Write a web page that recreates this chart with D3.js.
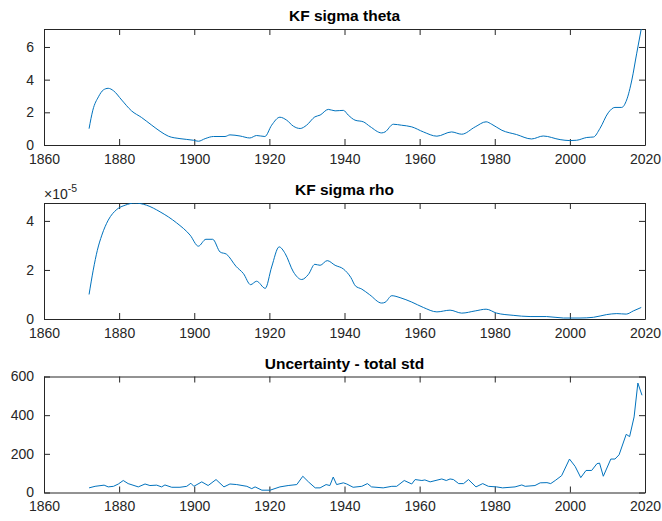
<!DOCTYPE html>
<html>
<head>
<meta charset="utf-8">
<script src="https://cdn.jsdelivr.net/npm/d3@7"></script>
<style>
  body { margin: 0; background: #fff; }
  svg { display: block; }
</style>
</head>
<body>
<svg id="chart" width="662" height="521"></svg>
<script>
// x axis ticks shared by all three panels
const xTicks = [1860, 1880, 1900, 1920, 1940, 1960, 1980, 2000, 2020];

// panel 1: KF sigma theta
const thetaYears = [1872, 1873, 1874.5, 1875.8, 1877.1, 1878.5, 1880.7, 1883.3, 1886, 1888.7, 1890.9, 1893.1, 1896.2, 1899.8,
  1901.1, 1902.9, 1905.1, 1908.2, 1909.5, 1912.2, 1914.8, 1916.6, 1918.8, 1920.6, 1922.8, 1924.6, 1926.4, 1928.2, 1929.9,
  1932.1, 1933.5, 1935.7, 1937.5, 1939.7, 1941, 1942.8, 1945, 1946.8, 1949.9, 1950.8, 1953, 1955.2, 1957.9, 1961,
  1964.6, 1968.5, 1971.2, 1974.8, 1977.7, 1979.2, 1981.9, 1985.8, 1989.8, 1992.9, 1997.4, 2000, 2001.8, 2004.5,
  2006.3, 2008, 2010.2, 2012, 2013.8, 2015.1, 2016.5, 2017.8, 2019];
const thetaValues = [1.0, 2.13, 2.95, 3.37, 3.47, 3.32, 2.75, 2.09, 1.68, 1.21, 0.84, 0.54, 0.39, 0.29,
  0.23, 0.39, 0.52, 0.52, 0.62, 0.55, 0.43, 0.58, 0.52, 1.21, 1.70, 1.52, 1.15, 1.01, 1.21,
  1.72, 1.83, 2.18, 2.09, 2.12, 1.83, 1.52, 1.42, 1.13, 0.74, 0.80, 1.27, 1.21, 1.11, 0.80,
  0.54, 0.80, 0.66, 1.11, 1.42, 1.27, 0.90, 0.64, 0.37, 0.55, 0.33, 0.27, 0.29, 0.46,
  0.49, 1.01, 1.97, 2.30, 2.30, 2.75, 3.98, 5.62, 7.10];
const thetaTicks = [0, 2, 4, 6];

// panel 2: KF sigma rho (x 1e-5)
const rhoYears = [1872, 1873.1, 1874.2, 1875.4, 1877.1, 1879.4, 1881.6, 1884.2, 1887.3, 1890.9, 1895.3, 1898.9, 1901.1,
  1903.1, 1904.9, 1906.9, 1908.6, 1911.1, 1913.1, 1915, 1916.6, 1918.9, 1920.6, 1922.6, 1924.2, 1926.4, 1928.6,
  1930.4, 1932.1, 1933.5, 1935.4, 1937.5, 1939.7, 1941.7, 1942.9, 1944.6, 1946.7, 1949.9, 1950.8, 1952.6, 1954.8,
  1957.9, 1961, 1964.6, 1968.1, 1971.2, 1974.8, 1977.7, 1980.5, 1984.9, 1989.4, 1993.8, 1998.3, 2002.7, 2006.3,
  2009.8, 2012.5, 2015, 2016.9, 2019];
const rhoValues = [1.00, 1.99, 2.80, 3.42, 4.03, 4.47, 4.64, 4.73, 4.64, 4.37, 3.92, 3.42, 2.97,
  3.25, 3.25, 2.73, 2.64, 2.15, 1.85, 1.40, 1.54, 1.25, 2.12, 2.94, 2.67, 1.92, 1.61,
  1.82, 2.23, 2.19, 2.38, 2.19, 2.04, 1.69, 1.35, 1.22, 0.99, 0.65, 0.68, 0.95, 0.87,
  0.69, 0.47, 0.29, 0.36, 0.24, 0.33, 0.40, 0.24, 0.15, 0.10, 0.10, 0.04, 0.04, 0.07,
  0.18, 0.22, 0.20, 0.33, 0.47];
const rhoTicks = [0, 2, 4];

// panel 3: Uncertainty - total std
const stdYears = [1872, 1873.6, 1876, 1877.1, 1878.5, 1879.8, 1881.1, 1882.4, 1885.1, 1886.9, 1888.2, 1890, 1891.3,
  1892.2, 1894, 1896.2, 1898, 1899.1, 1899.9, 1902, 1903.7, 1905.8, 1907.9, 1909.5, 1911.3, 1914, 1915.3, 1916.2,
  1918, 1920.2, 1922.8, 1925, 1927.3, 1928.9, 1930.4, 1932.2, 1933.5, 1935.1, 1936.1, 1937, 1937.9, 1939.7, 1940.6,
  1942.3, 1944.6, 1946.1, 1947.2, 1950.3, 1952.6, 1953.9, 1955.9, 1957.9, 1958.8, 1960.6, 1961.4, 1962.8, 1965.9,
  1967.1, 1968.1, 1969, 1970.4, 1971.7, 1973, 1975, 1976.8, 1978.3, 1980.5, 1982.1, 1985.4, 1987.2, 1988.1, 1990.7,
  1992.1, 1993.9, 1994.9, 1996.1, 1997.8, 1999.9, 2001.4, 2002.9, 2004.3, 2005.8, 2007.2, 2007.9, 2008.9, 2010.9,
  2012, 2013.1, 2015, 2015.9, 2017.1, 2018.1, 2019.2];
const stdValues = [24, 32, 38, 29, 32, 44, 62, 46, 29, 44, 36, 38, 29,
  39, 27, 27, 32, 48, 32, 55, 36, 67, 29, 44, 41, 32, 20, 29,
  12, 12, 29, 36, 41, 84, 55, 24, 24, 41, 36, 80, 41, 50, 44,
  27, 32, 46, 29, 24, 32, 32, 62, 44, 67, 62, 65, 55, 70,
  62, 70, 67, 46, 46, 67, 29, 46, 32, 29, 24, 29, 39, 32, 36,
  50, 51, 46, 62, 87, 173, 135, 77, 114, 114, 149, 152, 84, 173,
  173, 195, 301, 289, 391, 566, 503];
const stdTicks = [0, 200, 400, 600];

let svg = d3.select("#chart");

// common layout
let margin = { left: 44, right: 17 };
let plotWidth = 662 - margin.left - margin.right;
let plotHeight = 116;
let axisColor = "#262626";
let lineColor = "#0072bd";
let fontFamily = "'Liberation Sans', Arial, Helvetica, sans-serif";

let xScale = d3.scaleLinear()
  .domain([1860, 2020])
  .range([0, plotWidth]);

function drawPanel(top, title, years, values, yTicks, yMax, curve) {
  let yScale = d3.scaleLinear()
    .domain([0, yMax])
    .range([plotHeight, 0]);

  let plot = svg.append("g")
    .attr("transform", "translate(" + margin.left + "," + top + ")");

  // inward ticks on all four sides, like matlab box on
  let xBottom = d3.axisBottom(xScale).tickValues(xTicks).tickSizeInner(-6).tickSizeOuter(0).tickPadding(9).tickFormat(d3.format("d"));
  let xTop = d3.axisTop(xScale).tickValues(xTicks).tickSizeInner(-6).tickSizeOuter(0).tickFormat("");
  let yLeft = d3.axisLeft(yScale).tickValues(yTicks).tickSizeInner(-6).tickSizeOuter(0).tickPadding(10).tickFormat(d3.format("d"));
  let yRight = d3.axisRight(yScale).tickValues(yTicks).tickSizeInner(-6).tickSizeOuter(0).tickFormat("");

  plot.append("g").attr("transform", "translate(0," + plotHeight + ")").call(xBottom);
  plot.append("g").call(xTop);
  plot.append("g").call(yLeft);
  plot.append("g").attr("transform", "translate(" + plotWidth + ",0)").call(yRight);

  plot.selectAll(".domain").attr("stroke", axisColor).attr("stroke-width", 1);
  plot.selectAll(".tick line").attr("stroke", axisColor).attr("stroke-width", 1);
  plot.selectAll(".tick text")
    .style("fill", axisColor)
    .style("font-size", "14px")
    .style("font-family", fontFamily);

  // clip so the theta curve stops at the box top
  let clipId = "clip" + Math.round(top);
  plot.append("clipPath").attr("id", clipId)
    .append("rect").attr("width", plotWidth).attr("height", plotHeight);

  let line = d3.line()
    .x((d, i) => xScale(years[i]))
    .y((d) => yScale(d))
    .curve(curve);

  plot.append("path")
    .datum(values)
    .attr("clip-path", "url(#" + clipId + ")")
    .attr("d", line)
    .attr("fill", "none")
    .attr("stroke", lineColor)
    .attr("stroke-width", 1);

  // Title
  svg.append("text")
    .text(title)
    .attr("x", margin.left + plotWidth / 2)
    .attr("y", top - 8)
    .attr("text-anchor", "middle")
    .style("fill", "#000")
    .style("font-weight", "bold")
    .style("font-size", "15.5px")
    .style("font-family", fontFamily);

  return plot;
}

drawPanel(29, "KF sigma theta", thetaYears, thetaValues, thetaTicks, d3.max(thetaValues), d3.curveMonotoneX);
drawPanel(203, "KF sigma rho", rhoYears, rhoValues, rhoTicks, d3.max(rhoValues), d3.curveMonotoneX);
drawPanel(376.5, "Uncertainty - total std", stdYears, stdValues, stdTicks, 600, d3.curveLinear);

// exponent label for the rho panel
let expo = svg.append("text")
  .attr("x", margin.left)
  .attr("y", 199)
  .style("fill", axisColor)
  .style("font-size", "14px")
  .style("font-family", fontFamily);
expo.append("tspan").text("\u00d710");
expo.append("tspan").text("-5").attr("dy", -7).style("font-size", "10.5px");
</script>
</body>
</html>
